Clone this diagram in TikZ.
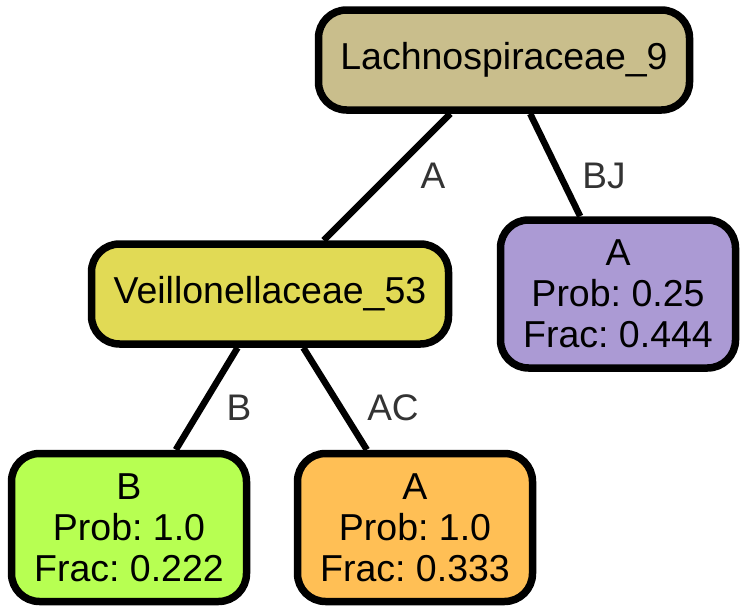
\documentclass[tikz,border=0pt]{standalone}
\usepackage{fontspec}
\setmainfont{Liberation Sans}
\frenchspacing
\definecolor{roottan}{HTML}{C9BE8C}
\definecolor{veilyellow}{HTML}{E1DA55}
\definecolor{leafpurple}{HTML}{AB9AD4}
\definecolor{leafgreen}{HTML}{B7FF52}
\definecolor{leaforange}{HTML}{FFBF55}
\definecolor{labelgray}{HTML}{333333}
\tikzset{
  treebox/.style={draw=black, line width=7.5pt, rounded corners=28pt, inner sep=0pt,
    align=center, font=\fontsize{37.5}{41}\selectfont},
  splitbox/.style={treebox, minimum height=100pt},
  leafbox/.style={treebox, minimum width=235pt, minimum height=148pt},
  edgeline/.style={draw=black, line width=6.5pt},
  elabel/.style={text=labelgray, font=\fontsize{37}{41}\selectfont, inner sep=0pt}
}
\begin{document}
\begin{tikzpicture}[x=1pt,y=-1pt]
\useasboundingbox (0,0) rectangle (747,613);
\node[splitbox, fill=roottan, minimum width=371pt] (root) at (504,60) {Lachnospiraceae\_9};
\node[splitbox, fill=veilyellow, minimum width=357pt] (veil) at (270,294) {Veillonellaceae\_53};
\node[leafbox, fill=leafpurple] (rleaf) at (618,294) {A\\Prob: 0.25\\Frac: 0.444};
\node[leafbox, fill=leafgreen] (bleaf) at (129,527.5) {B\\Prob: 1.0\\Frac: 0.222};
\node[leafbox, fill=leaforange] (aleaf) at (415,527.5) {A\\Prob: 1.0\\Frac: 0.333};
\draw[edgeline] (root) -- (veil) node[elabel] at (433,176) {A};
\draw[edgeline] (root) -- (rleaf) node[elabel] at (604,176) {BJ};
\draw[edgeline] (veil) -- (bleaf) node[elabel] at (239,408) {B};
\draw[edgeline] (veil) -- (aleaf) node[elabel] at (393,408) {AC};
\end{tikzpicture}
\end{document}
